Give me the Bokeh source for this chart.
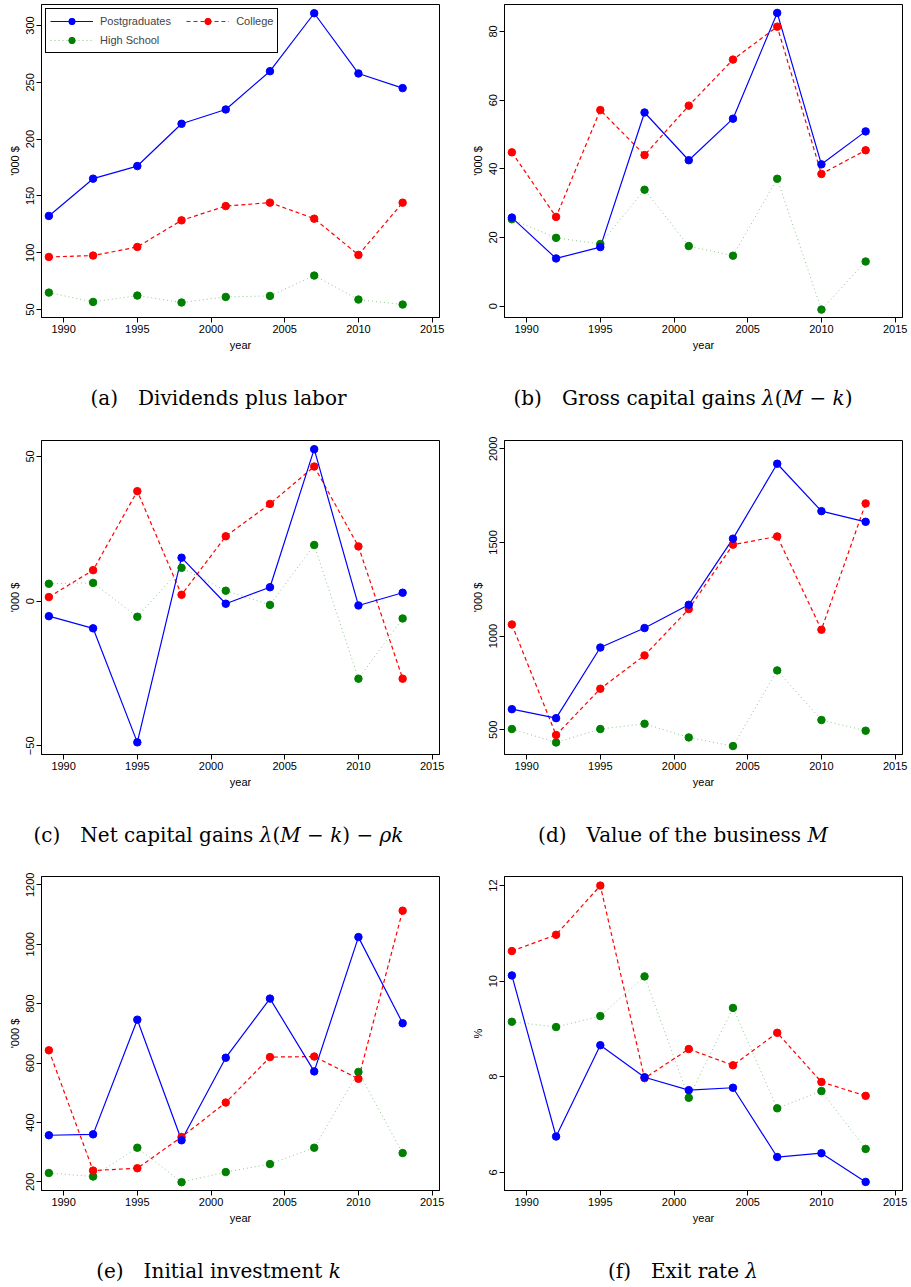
import math
from bokeh.plotting import figure
from bokeh.models import Range1d, FixedTicker, Legend, LegendItem, Div
from bokeh.layouts import column, row
from bokeh.embed import file_html
from bokeh.resources import INLINE

years = [1989, 1992, 1995, 1998, 2001, 2004, 2007, 2010, 2013]
series_names = ["Postgraduates", "College", "High School"]

# (a) Dividends plus labor ('000 $)
div_pg = [132.4, 165.2, 176.3, 213.5, 226.1, 259.8, 310.8, 257.8, 244.9]
div_col = [96.3, 97.5, 105.1, 128.5, 141.1, 144.1, 130.0, 98.1, 144.1]
div_hs = [64.9, 56.7, 62.3, 56.2, 61.1, 62.0, 79.9, 58.8, 54.4]

# (b) Gross capital gains ('000 $)
gross_pg = [25.8, 13.9, 17.2, 56.4, 42.5, 54.6, 85.4, 41.3, 50.9]
gross_col = [44.8, 26.0, 57.1, 44.0, 58.4, 71.8, 81.4, 38.5, 45.4]
gross_hs = [25.3, 19.9, 18.1, 33.9, 17.5, 14.7, 37.1, -1.0, 13.0]

# (c) Net capital gains ('000 $)
net_pg = [-5.2, -9.4, -48.8, 15.0, -0.9, 4.8, 52.5, -1.5, 2.9]
net_col = [1.4, 10.7, 38.0, 2.2, 22.4, 33.6, 46.5, 18.9, -26.8]
net_hs = [6.0, 6.3, -5.4, 11.5, 3.6, -1.3, 19.4, -26.8, -6.0]

# (d) Value of the business ('000 $)
value_pg = [610, 562, 939, 1043, 1167, 1520, 1920, 1667, 1610]
value_col = [1062, 472, 719, 897, 1144, 1488, 1532, 1034, 1708]
value_hs = [504, 432, 504, 532, 459, 413, 817, 552, 495]

# (e) Initial investment ('000 $)
inv_pg = [357, 360, 746, 340, 618, 817, 572, 1024, 734]
inv_col = [643, 238, 246, 351, 467, 620, 622, 547, 1113]
inv_hs = [230, 218, 315, 199, 233, 260, 315, 570, 297]

# (f) Exit rate (%)
exit_pg = [10.12, 6.75, 8.66, 7.99, 7.72, 7.77, 6.32, 6.40, 5.80]
exit_col = [10.63, 10.97, 12.0, 7.97, 8.58, 8.24, 8.92, 7.89, 7.60]
exit_hs = [9.15, 9.04, 9.27, 10.10, 7.56, 9.44, 7.34, 7.70, 6.49]

x_ticks = [1990, 1995, 2000, 2005, 2010, 2015]

SANS = "Liberation Sans"
SERIF = "DejaVu Serif"
BLUE = "#0000ff"
RED = "#ff0000"
GREEN = "#008000"


def make_panel(pg, col, hs, yr, yticks, ylabel, width, height, bl, br, bt, legend=False):
    p = figure(width=width, height=height,
               x_range=Range1d(1988.5, 2015.5), y_range=Range1d(*yr),
               output_backend="svg", toolbar_location=None,
               min_border_left=bl, min_border_right=br,
               min_border_top=bt, min_border_bottom=40)
    p.margin = (0, 0, 0, 0)
    p.title.visible = False
    p.xgrid.visible = False
    p.ygrid.visible = False
    p.outline_line_color = "black"
    p.outline_line_width = 1
    p.outline_line_alpha = 1
    p.background_fill_color = "white"
    p.border_fill_color = "white"

    l_hs = p.line(years, hs, line_color=GREEN, line_width=1, line_alpha=0.45, line_dash="1 3")
    l_col = p.line(years, col, line_color=RED, line_width=1.2, line_dash="4 3")
    l_pg = p.line(years, pg, line_color=BLUE, line_width=1.2)
    s_hs = p.scatter(years, hs, size=7.5, fill_color=GREEN, line_color=GREEN)
    s_col = p.scatter(years, col, size=7.5, fill_color=RED, line_color=RED)
    s_pg = p.scatter(years, pg, size=7.5, fill_color=BLUE, line_color=BLUE)

    for ax in (p.xaxis[0], p.yaxis[0]):
        ax.axis_line_color = "black"
        ax.major_tick_line_color = "black"
        ax.major_tick_out = 5
        ax.major_tick_in = 0
        ax.minor_tick_out = 0
        ax.minor_tick_in = 0
        ax.major_label_text_font = SANS
        ax.major_label_text_font_size = "11px"
        ax.major_label_text_color = "black"
        ax.axis_label_text_font = SANS
        ax.axis_label_text_font_size = "11px"
        ax.axis_label_text_font_style = "normal"
        ax.axis_label_text_color = "black"
        ax.major_label_standoff = 2
        ax.axis_label_standoff = 3

    p.xaxis.ticker = FixedTicker(ticks=x_ticks)
    p.xaxis.axis_label = "year"
    p.yaxis.ticker = FixedTicker(ticks=yticks)
    p.yaxis.axis_label = ylabel
    p.yaxis.major_label_orientation = "vertical"

    if legend:
        # column-major filling: col 1 = Postgraduates / High School, col 2 = College
        leg = Legend(items=[
            LegendItem(label=series_names[0] + "\u00a0" * 4, renderers=[l_pg, s_pg]),
            LegendItem(label=series_names[2], renderers=[l_hs, s_hs]),
            LegendItem(label=series_names[1], renderers=[l_col, s_col]),
        ], location="top_left", ncols=2)
        leg.label_text_font = SANS
        leg.label_text_font_size = "11px"
        leg.border_line_color = "black"
        leg.border_line_width = 1
        leg.border_line_alpha = 1
        leg.background_fill_alpha = 1
        leg.margin = 4
        leg.padding = 4
        leg.spacing = 3
        leg.glyph_width = 43
        leg.glyph_height = 16
        leg.label_standoff = 7
        leg.label_height = 16
        p.add_layout(leg)
    return p


def caption(html, width, height, top, left_pad, right_pad):
    d = Div(text=(f'<div style="font-family:\'{SERIF}\'; font-size:20px; line-height:20px; '
                  f'color:black; text-align:center; white-space:nowrap; margin:0; '
                  f'padding-top:{top}px; padding-left:{left_pad}px; padding-right:{right_pad}px; '
                  f'width:{width - left_pad - right_pad}px;">{html}</div>'),
            width=width, height=height)
    d.margin = (0, 0, 0, 0)
    return d


LW, RW = 455, 456

fa = make_panel(div_pg, div_col, div_hs, (43, 318.5), [50, 100, 150, 200, 250, 300],
                "'000 $", LW, 357, 41, 16, 4, legend=True)
fb = make_panel(gross_pg, gross_col, gross_hs, (-3.3, 87.85), [0, 20, 40, 60, 80],
                "'000 $", RW, 357, 49, 9, 4)
fc = make_panel(net_pg, net_col, net_hs, (-53.0, 55.5), [-50, 0, 50],
                "'000 $", LW, 374, 41, 16, 20)
fd = make_panel(value_pg, value_col, value_hs, (368, 2044), [500, 1000, 1500, 2000],
                "'000 $", RW, 374, 49, 9, 20)
fe = make_panel(inv_pg, inv_col, inv_hs, (171, 1228), [200, 400, 600, 800, 1000, 1200],
                "'000 $", LW, 380, 41, 16, 26)
ff = make_panel(exit_pg, exit_col, exit_hs, (5.62, 12.19), [6, 8, 10, 12],
                "%", RW, 380, 49, 9, 26)

ca = caption("(a)&emsp;Dividends plus labor", LW, 63, 31, 0, 9)
cb = caption("(b)&emsp;Gross capital gains <i>λ</i>(<i>M</i> − <i>k</i>)", RW, 63, 31, 6, 0)
cc = caption("(c)&emsp;Net capital gains <i>λ</i>(<i>M</i> − <i>k</i>) − <i>ρk</i>", LW, 56, 31, 0, 9)
cd = caption("(d)&emsp;Value of the business <i>M</i>", RW, 56, 31, 6, 0)
ce = caption("(e)&emsp;Initial investment <i>k</i>", LW, 57, 31, 0, 9)
cf = caption("(f)&emsp;Exit rate <i>λ</i>", RW, 57, 31, 6, 0)

layout = column(row(fa, fb), row(ca, cb), row(fc, fd), row(cc, cd), row(fe, ff), row(ce, cf))
layout.margin = (0, 0, 0, 0)

open("out.html", "w").write(file_html(layout, INLINE))
